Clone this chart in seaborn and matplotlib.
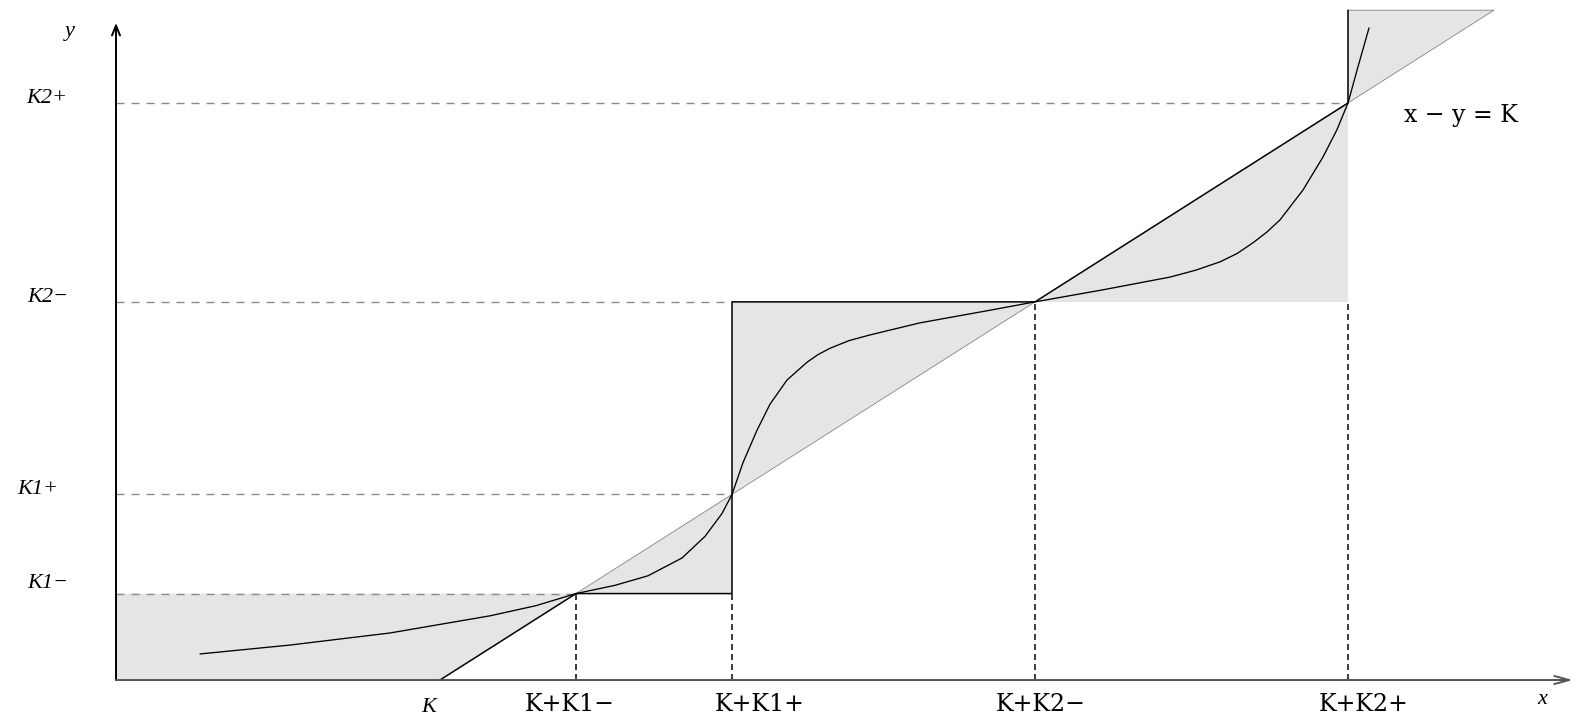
import matplotlib
matplotlib.use("Agg")
import matplotlib.pyplot as plt
import seaborn as sns

# Threshold values of the piecewise map (x - y = K with two plateaus)
K = 3.24
K1_minus = 1.36
K1_plus = 2.92
K2_minus = 5.95
K2_plus = 9.08
y_top = 10.54

level_values = [K1_minus, K1_plus, K2_minus, K2_plus]
level_labels = ["K1\u2212", "K1+", "K2\u2212", "K2+"]
shift_labels = ["K+K1\u2212", "K+K1+", "K+K2\u2212", "K+K2+"]

# Smooth response curve
curve_x = [0.84, 1.74, 2.74, 3.74, 4.20, 4.60, 4.99, 5.32, 5.66, 5.89, 6.06,
           6.16, 6.27, 6.41, 6.54, 6.71, 6.91, 7.02, 7.14, 7.33, 7.54, 8.04,
           8.71, 9.19, 9.87, 10.54, 10.80, 11.04, 11.21, 11.37, 11.51, 11.64,
           11.87, 12.07, 12.21, 12.32, 12.42, 12.53]
curve_y = [0.41, 0.55, 0.74, 1.01, 1.17, 1.36, 1.49, 1.64, 1.92, 2.26, 2.62,
           2.92, 3.42, 3.93, 4.34, 4.72, 5.00, 5.12, 5.22, 5.34, 5.43, 5.62,
           5.81, 5.95, 6.14, 6.34, 6.45, 6.58, 6.71, 6.88, 7.05, 7.24,
           7.71, 8.23, 8.66, 9.08, 9.65, 10.26]

sns.set_theme(style="white")
plt.rcParams["lines.scale_dashes"] = False
plt.rcParams["font.family"] = ["Liberation Serif", "DejaVu Serif"]

fig = plt.figure(figsize=(15.75, 7.17), dpi=100)
ax = fig.add_axes([0, 0, 1, 1])
ax.set_xlim(-1.16, 14.59)
ax.set_ylim(-0.582, 10.70)
ax.axis("off")

fill_c = "#e5e5e5"
# shaded regions between the line x - y = K and the staircase
polys = [
    [(0, 0), (K, 0), (K + K1_minus, K1_minus), (0, K1_minus)],
    [(K + K1_minus, K1_minus), (K + K1_plus, K1_minus), (K + K1_plus, K1_plus)],
    [(K + K1_plus, K1_plus), (K + K1_plus, K2_minus), (K + K2_minus, K2_minus)],
    [(K + K2_minus, K2_minus), (K + K2_plus, K2_minus), (K + K2_plus, K2_plus)],
    [(K + K2_plus, K2_plus), (K + K2_plus, y_top), (K + y_top, y_top)],
]
for p in polys:
    xs, ys = zip(*p)
    ax.fill(xs, ys, color=fill_c, lw=0, zorder=0)

# dashed guide lines
h_ends = [K + K1_minus, K + K1_plus, K + K1_plus, K + K2_plus]
for lv, xe in zip(level_values, h_ends):
    ax.plot([0, xe], [lv, lv], color="#8a8a8a", lw=1.0,
            linestyle=(0, (5.8, 5.0)), zorder=1)
v_pos = [K + K1_minus, K + K1_plus, K + K2_minus, K + K2_plus]
v_ends = [K1_minus, K1_minus, K2_minus, K2_minus]
for xv, ye in zip(v_pos, v_ends):
    ax.plot([xv, xv], [0, ye], color="#3a3a3a", lw=1.4,
            linestyle=(0, (4.3, 2.9)), zorder=1)

# thin continuation of the line x - y = K
ax.plot([K + K1_minus, K + K2_minus], [K1_minus, K2_minus],
        color="#7a7a7a", lw=0.55, zorder=2)
ax.plot([K + K2_plus, K + y_top, K + K2_plus], [K2_plus, y_top, y_top],
        color="#7a7a7a", lw=0.55, zorder=2)

# staircase
stair_x = [K, K + K1_minus, K + K1_plus, K + K1_plus, K + K2_minus,
           K + K2_plus, K + K2_plus]
stair_y = [0, K1_minus, K1_minus, K2_minus, K2_minus, K2_plus, y_top]
sns.lineplot(x=stair_x, y=stair_y, sort=False, estimator=None,
             color="black", linewidth=1.1, ax=ax, zorder=3)

# smooth curve
sns.lineplot(x=curve_x, y=curve_y, sort=False, estimator=None,
             color="black", linewidth=0.95, ax=ax, zorder=4,
             solid_joinstyle="round", solid_capstyle="round")

# axes with arrows
ax.annotate("", xy=(0, 10.34), xytext=(0, 0),
            arrowprops=dict(arrowstyle="->,head_length=0.72,head_width=0.29",
                            mutation_scale=10, lw=1.4, color="black",
                            shrinkA=0, shrinkB=0), zorder=5)
ax.annotate("", xy=(14.57, 0), xytext=(0, 0),
            arrowprops=dict(arrowstyle="->,head_length=1.08,head_width=0.29",
                            mutation_scale=10, lw=1.4, color="#555555",
                            shrinkA=0, shrinkB=0), zorder=5)

# labels
ital = dict(family="Liberation Serif", style="italic", fontsize=16,
            color="black")
left_x = [-0.68, -0.78, -0.68, -0.69]
left_dy = [0.09, 0.0, 0.0, 0.0]
for lab, lv, lx, dy in zip(level_labels, level_values, left_x, left_dy):
    ax.text(lx, lv + dy, lab, ha="center", va="baseline", **ital)

ax.text(-0.46, 10.13, "y", ha="center", va="baseline", **ital)
ax.text(14.26, -0.378, "x", ha="center", va="baseline", **ital)
ax.text(3.13, -0.50, "K", ha="center", va="baseline", **ital)

up = dict(family="DejaVu Serif", fontsize=17, color="black")
shift_dx = [-0.06, 0.28, 0.06, 0.16]
for lab, xv, dx in zip(shift_labels, v_pos, shift_dx):
    ax.text(xv + dx, -0.49, lab, ha="center", va="baseline", **up)

ax.text(13.45, 8.78, "x \u2212 y = K", ha="center", va="baseline", **up)

fig.savefig("out.png", dpi=100)
